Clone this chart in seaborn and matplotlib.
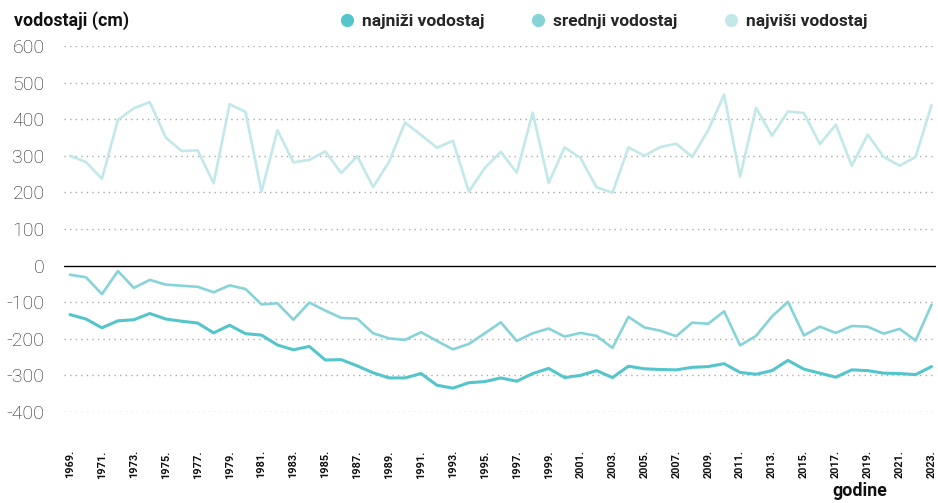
import pandas as pd
import numpy as np
import matplotlib
matplotlib.use("Agg")
import matplotlib.pyplot as plt
from matplotlib.lines import Line2D
import seaborn as sns

# godine 1969. - 2023.
years = list(range(1969, 2024))

najnizi = [-134, -146, -170, -151, -148, -131, -146, -152, -157, -184,
           -163, -186, -190, -217, -230, -221, -258, -257, -274, -293,
           -307, -307, -295, -327, -335, -320, -317, -307, -316, -295,
           -281, -306, -300, -287, -306, -275, -282, -284, -285, -278,
           -276, -268, -292, -297, -287, -259, -283, -294, -305, -285,
           -287, -294, -295, -298, -276]

srednji = [-25, -32, -78, -15, -61, -39, -52, -55, -58, -73,
           -54, -64, -106, -103, -148, -101, -123, -143, -145, -185,
           -199, -203, -182, -206, -229, -214, -185, -155, -206, -185,
           -172, -194, -184, -192, -225, -140, -169, -178, -193, -156,
           -159, -125, -218, -192, -139, -99, -191, -167, -184, -165,
           -167, -186, -173, -205, -107]

najvisi = [300, 283, 237, 398, 430, 447, 350, 313, 315, 225,
           441, 420, 202, 370, 282, 289, 312, 253, 299, 215,
           284, 391, 357, 322, 341, 202, 267, 311, 254, 418,
           226, 323, 294, 214, 199, 323, 300, 324, 333, 297,
           370, 467, 243, 431, 355, 421, 417, 332, 385, 273,
           358, 297, 273, 297, 438]

series_names = ["najniži vodostaj", "srednji vodostaj", "najviši vodostaj"]
colors = ["#55c5cc", "#86d3d8", "#c2e8ea"]
widths = [2.2, 1.9, 1.9]

df = pd.concat([
    pd.DataFrame({"godina": years, "vodostaj": vals, "serija": name})
    for name, vals in zip(series_names, [najnizi, srednji, najvisi])
])

sns.set_style("white")
plt.rcParams["font.family"] = ["Roboto", "DejaVu Sans"]

fig = plt.figure(figsize=(9.38, 5.03), dpi=100)
ax = fig.add_axes([0.0682, 0.181, 0.93, 0.7275])
# tick marks sit a bit below the plot area (set before labels, it resets ticks)
ax.spines["bottom"].set_position(("outward", 24))

# grid lines (dotted) and zero line
for v in range(-400, 601, 100):
    if v == 0:
        ax.axhline(0, color="black", lw=1.0, zorder=1)
    else:
        ax.axhline(v, color="#aaaaaa", lw=1.0, ls=(0, (1, 3)), zorder=0)

for name, col, lw in zip(series_names, colors, widths):
    sns.lineplot(data=df[df["serija"] == name], x="godina", y="vodostaj",
                 color=col, lw=lw, ax=ax, legend=False, zorder=3)

ax.set_ylim(-400, 600)
ax.set_xlim(1968.62, 2023.3)
ax.set_yticks(range(-400, 601, 100))
ax.set_yticklabels([str(v) for v in range(-400, 601, 100)],
                   fontsize=14, fontweight="light", color="#222222")
ax.set_xticks(years[::2])
ax.set_xticklabels([f"{y}." for y in years[::2]], rotation=90,
                   fontsize=7.8, fontweight="bold", color="#111111")
ax.tick_params(axis="y", length=0, pad=14)
ax.tick_params(axis="x", length=1.5, width=1.2, color="#222222", pad=2)
for s in ax.spines.values():
    s.set_visible(False)
ax.set_xlabel("")
ax.set_ylabel("")

fig.text(14 / 938, 1 - 21 / 503, "vodostaji (cm)", fontsize=12.8,
         fontweight="bold", va="center", ha="left", color="#111111")
fig.text(887 / 938, 1 - 491 / 503, "godine", fontsize=12.8,
         fontweight="bold", va="center", ha="right", color="#111111")

handles = [Line2D([], [], marker="o", ls="none", markersize=8.5,
                  markerfacecolor=c, markeredgecolor=c) for c in colors]
leg = fig.legend(handles, series_names, loc="center left",
                 bbox_to_anchor=(341 / 938, 1 - 21 / 503), ncol=3,
                 frameon=False, handlelength=0.7, handletextpad=0.5,
                 columnspacing=2.75, borderaxespad=0, borderpad=0,
                 prop={"weight": "bold", "size": 12.5})

fig.savefig("out.png", dpi=100)
